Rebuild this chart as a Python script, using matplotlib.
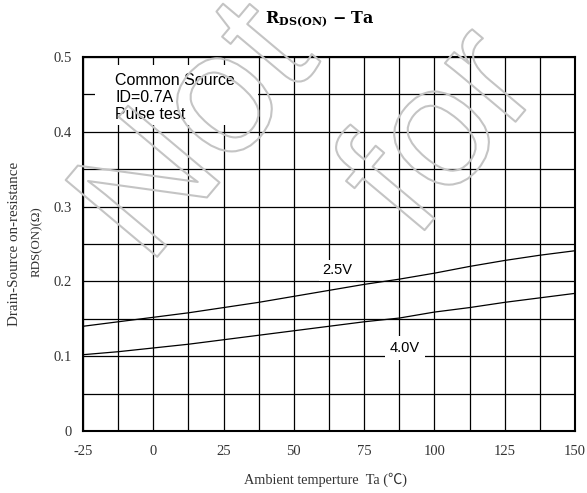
import matplotlib
matplotlib.use("Agg")
import matplotlib.pyplot as plt
import matplotlib.patheffects as pe
from matplotlib.patches import Rectangle
import numpy as np

# data
temps = [-25, -12.5, 0, 12.5, 25, 37.5, 50, 62.5, 75, 87.5, 100, 112.5, 125, 137.5, 150]
rds_25v = [0.140, 0.146, 0.152, 0.158, 0.165, 0.172, 0.180, 0.188, 0.196, 0.203,
           0.211, 0.220, 0.228, 0.235, 0.241]
rds_40v = [0.102, 0.106, 0.111, 0.116, 0.122, 0.128, 0.134, 0.140, 0.146, 0.151,
           0.159, 0.165, 0.172, 0.178, 0.184]
x_ticks = [-25, 0, 25, 50, 75, 100, 125, 150]
y_ticks = [0, 0.1, 0.2, 0.3, 0.4, 0.5]
y_tick_labels = ["0", "0.1", "0.2", "0.3", "0.4", "0.5"]

SERIF = ["Liberation Serif", "Noto Sans CJK JP"]
SANS = ["Liberation Sans", "DejaVu Sans"]
plt.rcParams["mathtext.fontset"] = "dejavuserif"

fig = plt.figure(figsize=(5.87, 4.93), dpi=100)
ax = fig.add_axes([83 / 587, 62 / 493, 492 / 587, 374 / 493])

ax.set_xlim(-25, 150)
ax.set_ylim(0, 0.5)

# grid every 12.5 deg and every 0.05 ohm
for xv in np.arange(-25, 150.1, 12.5):
    ax.axvline(xv, color="black", lw=0.9, zorder=1)
for yv in np.arange(0, 0.501, 0.05):
    ax.axhline(yv, color="black", lw=0.9, zorder=1)

ax.plot(temps, rds_25v, color="black", lw=0.9, zorder=3)
ax.plot(temps, rds_40v, color="black", lw=0.9, zorder=3)

ax.set_xticks(x_ticks)
ax.set_xticklabels([str(v) for v in x_ticks])
ax.set_yticks(y_ticks)
ax.set_yticklabels(y_tick_labels)
ax.tick_params(length=0, labelsize=10.5, labelcolor="#333333")
ax.tick_params(axis="x", pad=10)
ax.tick_params(axis="y", pad=8)
for lab in ax.get_xticklabels() + ax.get_yticklabels():
    lab.set_family(SERIF)
for sp in ax.spines.values():
    sp.set_linewidth(1.5)
    sp.set_zorder(5)

# condition box
ax.add_patch(Rectangle((-20.7, 0.409), 58.0, 0.080, facecolor="white",
                       edgecolor="none", zorder=2))
ax.text(-13.6, 0.446, "Common Source\nID=0.7A\nPulse test", family=SANS,
        fontsize=11.5, va="center", ha="left", linespacing=1.15, zorder=4)

ax.text(65.4, 0.215, "2.5V", family=SANS, fontsize=10.5, ha="center", va="center",
        zorder=4, bbox=dict(boxstyle="square,pad=0.25", fc="white", ec="none"))
ax.text(89.5, 0.111, "4.0V", family=SANS, fontsize=10.5, ha="center", va="center",
        zorder=4, bbox=dict(boxstyle="square,pad=0.35", fc="white", ec="none"))

fig.text(320 / 587, 1 - 20 / 493, r"$\mathbf{R}_{\mathbf{DS(ON)}}$ $\mathbf{-}$ $\mathbf{Ta}$",
         ha="center", va="center", fontsize=11.5)

fig.text(15 / 587, 0.505, "Drain-Source on-resistance", rotation=90,
         family=SERIF, fontsize=10.8, color="#333333", ha="center", va="center")
fig.text(37 / 587, 0.51, "RDS(ON)(Ω)", rotation=90,
         family=SERIF, fontsize=9.3, color="#333333", ha="center", va="center")
fig.text(325 / 587, 1 - 480 / 493, "Ambient temperture  Ta (℃)",
         family=SERIF, fontsize=10.3, color="#333333", ha="center", va="center")

# outlined watermark
for word, xc, yc in [("Not", 200, 135), ("for", 445, 135)]:
    fig.text(xc / 587, 1 - yc / 493, word, rotation=50, fontsize=125,
             family=SANS, color="none", ha="center", va="center", zorder=10,
             path_effects=[pe.Stroke(linewidth=1.5, foreground="#c4c4c4")])

fig.savefig("out.png", dpi=100)
